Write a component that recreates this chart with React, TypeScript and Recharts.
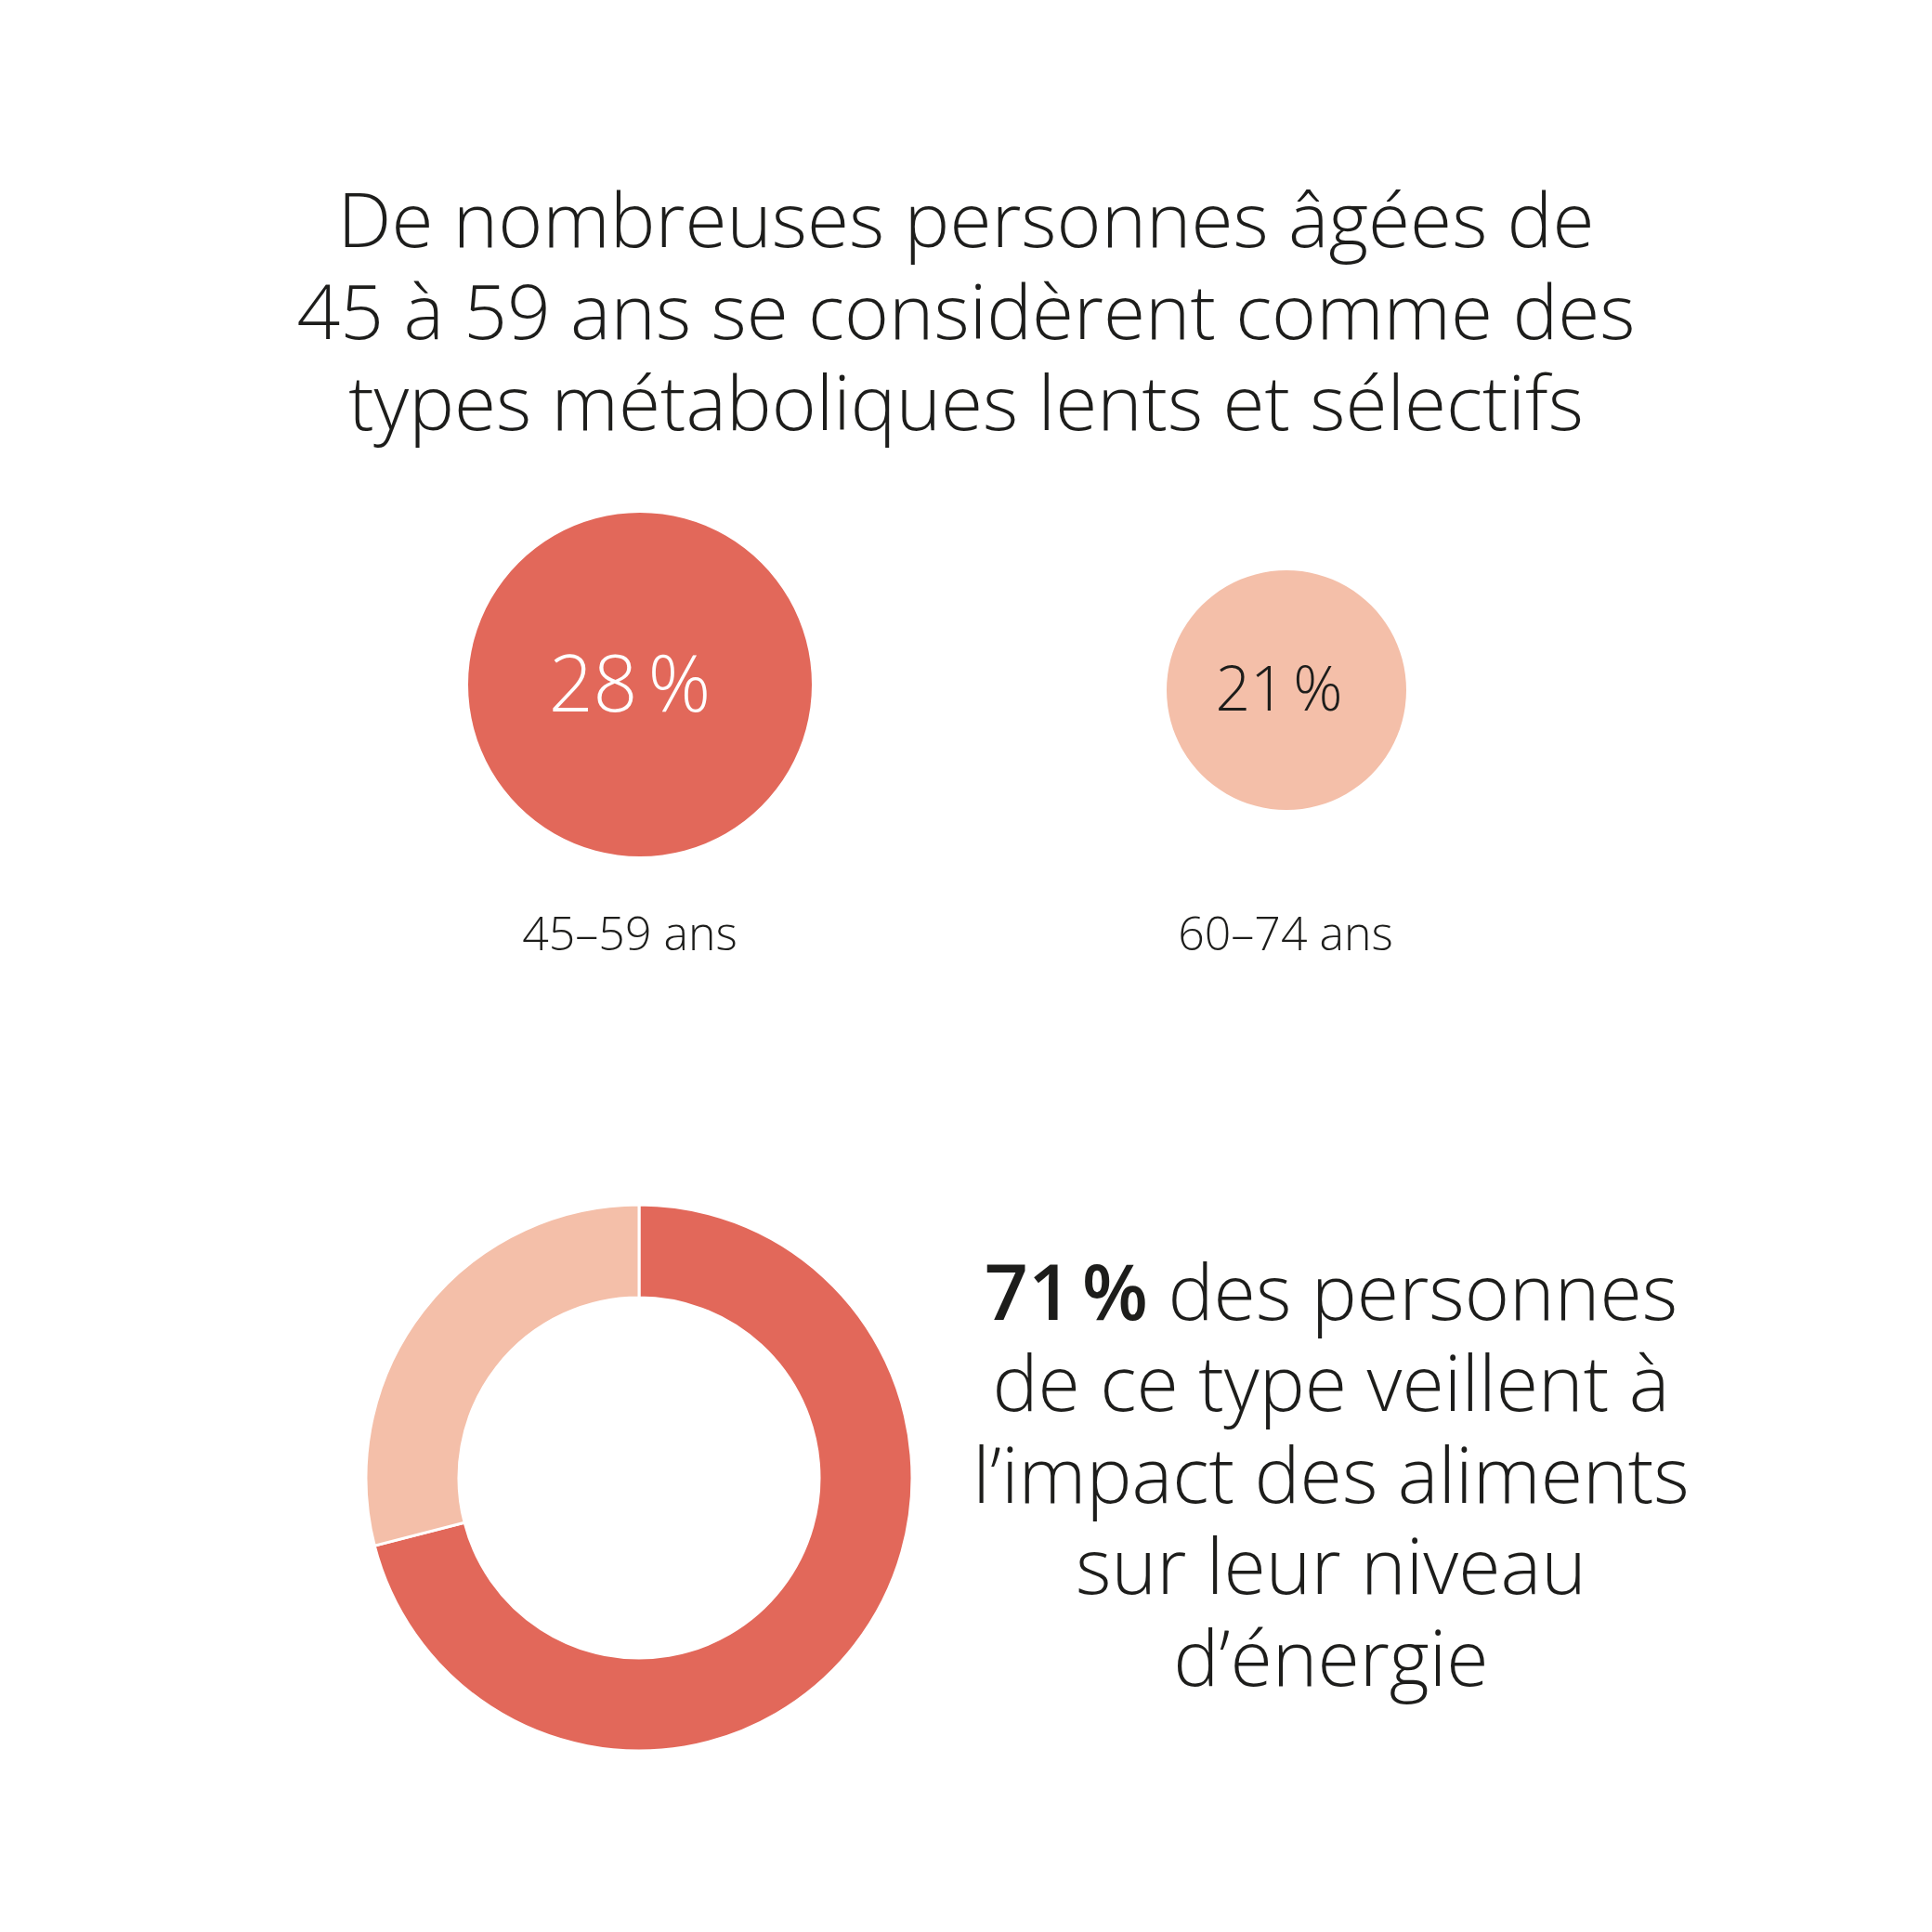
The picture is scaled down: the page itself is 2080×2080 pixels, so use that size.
import { PieChart, Pie, Cell } from "recharts";

// bubbles: share of people per age group
const ageGroups = ["45–59 ans", "60–74 ans"];
const shares = [28, 21];

// donut: share of that type who watch food impact on energy
const donutNames = ["veillent", "autres"];
const donutValues = [71, 29];

const titleLines = [
  "De nombreuses personnes âgées de",
  "45 à 59 ans se considèrent comme des",
  "types métaboliques lents et sélectifs",
];
const sideLines = [
  "de ce type veillent à",
  "l’impact des aliments",
  "sur leur niveau",
  "d’énergie",
];

const RED = "#E2685A";
const PEACH = "#F4BFA9";
const INK = "#1d1d1b";
const FONT = "'Open Sans', 'Noto Sans', sans-serif";

const bubbleLayout = [
  { cx: 689, cy: 737, r: 185, fill: RED, textColor: "#ffffff", fontSize: 84, tx: 678, ty: 766, lx: 678 },
  { cx: 1385, cy: 743, r: 129, fill: PEACH, textColor: INK, fontSize: 66, tx: 1377, ty: 765, lx: 1384 },
];

const App = () => {
  const donutData = donutNames.map((name, i) => ({ name, value: donutValues[i] }));

  return (
    <div style={{ position: "absolute", left: 0, top: 0, width: 2080, height: 2080, background: "#fff" }}>
      <PieChart width={2080} height={2080} margin={{ top: 0, right: 0, bottom: 0, left: 0 }}>
        {ageGroups.map((g, i) => (
          <Pie
            key={g}
            data={[{ name: g, value: shares[i] }]}
            dataKey="value"
            cx={bubbleLayout[i].cx}
            cy={bubbleLayout[i].cy}
            innerRadius={0}
            outerRadius={bubbleLayout[i].r}
            startAngle={90}
            endAngle={-270}
            stroke="none"
            isAnimationActive={false}
          >
            <Cell fill={bubbleLayout[i].fill} />
          </Pie>
        ))}
        <Pie
          data={donutData}
          dataKey="value"
          cx={688}
          cy={1591}
          innerRadius={194}
          outerRadius={294}
          startAngle={90}
          endAngle={-270}
          stroke="#ffffff"
          strokeWidth={3}
          isAnimationActive={false}
        >
          <Cell fill={RED} />
          <Cell fill={PEACH} />
        </Pie>
      </PieChart>

      <svg
        width={2080}
        height={2080}
        style={{ position: "absolute", left: 0, top: 0, pointerEvents: "none" }}
        fontFamily={FONT}
      >
        {titleLines.map((line, i) => (
          <text key={line} x={1040} y={266 + i * 98.5} textAnchor="middle" fontSize={82} fontWeight={300} fill={INK}>
            {line}
          </text>
        ))}

        {ageGroups.map((g, i) => (
          <g key={g}>
            <text
              x={bubbleLayout[i].tx}
              y={bubbleLayout[i].ty}
              textAnchor="middle"
              fontSize={bubbleLayout[i].fontSize}
              fontWeight={300}
              fill={bubbleLayout[i].textColor}
            >
              {shares[i]}{"\u202F"}%
            </text>
            <text x={bubbleLayout[i].lx} y={1023} textAnchor="middle" fontSize={50} fontWeight={300} fill={INK}>
              {g}
            </text>
          </g>
        ))}

        <text x={1433} y={1421} textAnchor="middle" fontSize={82.5} fontWeight={300} fill={INK}>
          <tspan fontWeight={600}>{donutValues[0]}{"\u202F"}%</tspan> des personnes
        </text>
        {sideLines.map((line, i) => (
          <text key={line} x={1433} y={1519 + i * 98.5} textAnchor="middle" fontSize={82.5} fontWeight={300} fill={INK}>
            {line}
          </text>
        ))}
      </svg>
    </div>
  );
};

export default App;
